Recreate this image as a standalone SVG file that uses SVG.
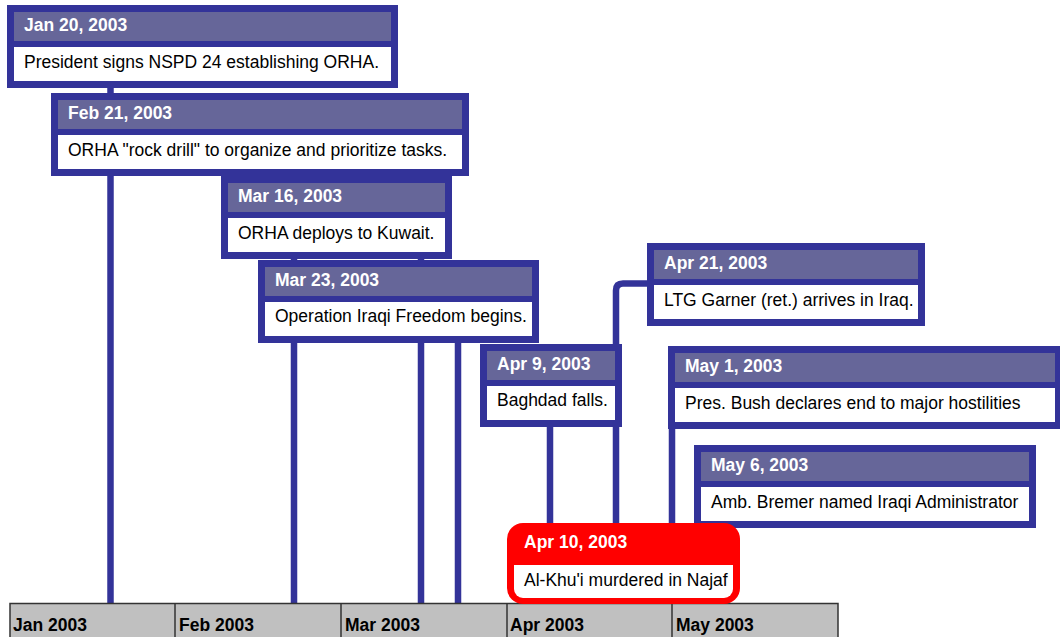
<svg xmlns="http://www.w3.org/2000/svg" width="1060" height="637" viewBox="0 0 1060 637">
<style>
.frame{fill:#333399}
.hdr{fill:#666699}
.body{fill:#ffffff}
.date{font-family:"Liberation Sans",Arial,sans-serif;font-weight:bold;font-size:17.5px;fill:#ffffff}
.txt{font-family:"Liberation Sans",Arial,sans-serif;font-size:17.5px;fill:#000000}
.month{font-family:"Liberation Sans",Arial,sans-serif;font-weight:bold;font-size:17.5px;fill:#000000}
.conn{stroke:#333399;stroke-width:6.5;fill:none}
</style>
<rect width="1060" height="637" fill="#ffffff"/>
<g id="connectors">
<path class="conn" d="M110.5,88 V604"/>
<path class="conn" d="M294,176 V604"/>
<path class="conn" d="M421,259 V604"/>
<path class="conn" d="M458,343 V604"/>
<path class="conn" d="M550,426 V604"/>
<path class="conn" d="M647,283.5 H623 Q616,283.5 616,290.5 V604"/>
<path class="conn" d="M672,428 V604"/>
</g>
<g id="timeline">
<rect x="10" y="603.5" width="828" height="40" fill="#c0c0c0" stroke="#333333" stroke-width="1.5"/>
<path d="M175,603.5 V637 M341,603.5 V637 M507,603.5 V637 M672,603.5 V637" stroke="#333333" stroke-width="1.5"/>
<text class="month" x="13" y="630.5">Jan 2003</text>
<text class="month" x="179" y="630.5">Feb 2003</text>
<text class="month" x="345" y="630.5">Mar 2003</text>
<text class="month" x="510" y="630.5">Apr 2003</text>
<text class="month" x="676" y="630.5">May 2003</text>
</g>
<g id="ev-jan20">
<rect class="frame" x="7" y="5" width="391" height="83"/>
<rect class="hdr" x="14" y="12" width="377" height="29"/>
<rect class="body" x="14" y="47" width="377" height="34"/>
<text class="date" x="24" y="31">Jan 20, 2003</text>
<text class="txt" x="24" y="67.5">President signs NSPD 24 establishing ORHA.</text>
</g>
<g id="ev-feb21">
<rect class="frame" x="51" y="93" width="418" height="83"/>
<rect class="hdr" x="58" y="100" width="404" height="29"/>
<rect class="body" x="58" y="135" width="404" height="34"/>
<text class="date" x="68" y="119">Feb 21, 2003</text>
<text class="txt" x="68" y="155.5">ORHA "rock drill" to organize and prioritize tasks.</text>
</g>
<g id="ev-mar16">
<rect class="frame" x="221" y="176" width="231" height="83"/>
<rect class="hdr" x="228" y="183" width="217" height="29"/>
<rect class="body" x="228" y="218" width="217" height="34"/>
<text class="date" x="238" y="202">Mar 16, 2003</text>
<text class="txt" x="238" y="238.5">ORHA deploys to Kuwait.</text>
</g>
<g id="ev-mar23">
<rect class="frame" x="258" y="260" width="281" height="83"/>
<rect class="hdr" x="265" y="267" width="267" height="29"/>
<rect class="body" x="265" y="302" width="267" height="34"/>
<text class="date" x="275" y="285.5">Mar 23, 2003</text>
<text class="txt" x="275" y="322">Operation Iraqi Freedom begins.</text>
</g>
<g id="ev-apr9">
<rect class="frame" x="480" y="344" width="142" height="83"/>
<rect class="hdr" x="487" y="351" width="128" height="29"/>
<rect class="body" x="487" y="386" width="128" height="34"/>
<text class="date" x="497" y="369.5">Apr 9, 2003</text>
<text class="txt" x="497" y="406">Baghdad falls.</text>
</g>
<g id="ev-apr21">
<rect class="frame" x="647" y="243" width="278" height="83"/>
<rect class="hdr" x="654" y="250" width="264" height="29"/>
<rect class="body" x="654" y="285" width="264" height="34"/>
<text class="date" x="664" y="268.5">Apr 21, 2003</text>
<text class="txt" x="664" y="305.5">LTG Garner (ret.) arrives in Iraq.</text>
</g>
<g id="ev-may1">
<rect class="frame" x="668" y="346" width="394" height="83"/>
<rect class="hdr" x="675" y="353" width="380" height="29"/>
<rect class="body" x="675" y="388" width="380" height="34"/>
<text class="date" x="685" y="371.5">May 1, 2003</text>
<text class="txt" x="685" y="408.5">Pres. Bush declares end to major hostilities</text>
</g>
<g id="ev-may6">
<rect class="frame" x="694" y="445" width="342" height="83"/>
<rect class="hdr" x="701" y="452" width="328" height="29"/>
<rect class="body" x="701" y="487" width="328" height="34"/>
<text class="date" x="711" y="470.5">May 6, 2003</text>
<text class="txt" x="711" y="507.5">Amb. Bremer named Iraqi Administrator</text>
</g>
<g id="ev-apr10">
<rect x="507" y="523" width="233" height="81" rx="16" ry="16" fill="#ff0000"/>
<path d="M514,565 H733 V589 A9,9 0 0 1 724,598 H523 A9,9 0 0 1 514,589 Z" fill="#ffffff"/>
<text class="date" x="524" y="548">Apr 10, 2003</text>
<text class="txt" x="524" y="586">Al-Khu'i murdered in Najaf</text>
</g>
</svg>
